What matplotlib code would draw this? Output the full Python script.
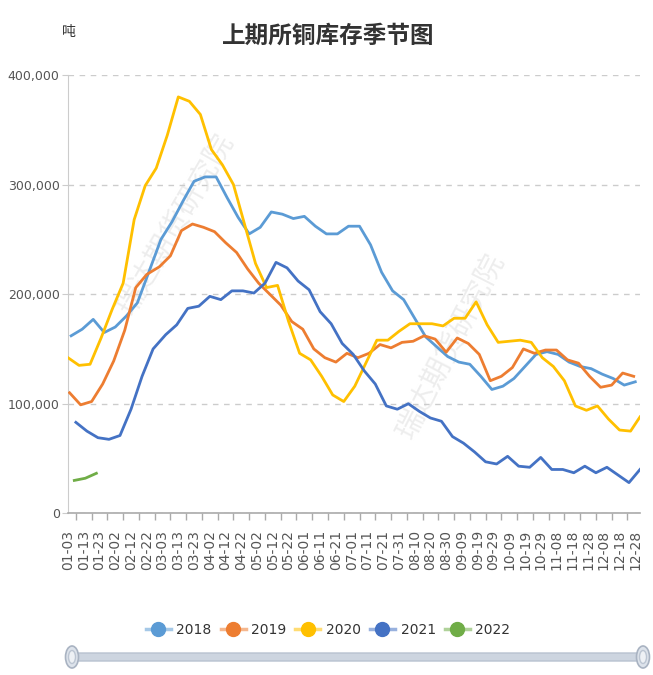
import matplotlib
matplotlib.use("Agg")
import matplotlib.pyplot as plt
from matplotlib.lines import Line2D
from matplotlib.patches import FancyBboxPatch, Ellipse
import numpy as np
import pandas as pd

plt.rcParams['font.family'] = ['Noto Sans CJK SC', 'DejaVu Sans']

# weekly SHFE copper stocks (tonnes), first report date of each year
years = ['2018', '2019', '2020', '2021', '2022']
first_dates = ['2018-01-05', '2019-01-04', '2020-01-03', '2021-01-08', '2022-01-07']
colors = ['#5B9BD5', '#ED7D31', '#FFC000', '#4472C4', '#70AD47']

v2018 = [162000, 168000, 177000, 165000, 170000, 180000, 192000, 219000, 250000, 266000,
         285000, 303000, 307000, 307000, 288000, 270000, 255000, 261000, 275000, 273000,
         269000, 271000, 262000, 255000, 255000, 262000, 262000, 245000, 220000, 203000,
         195000, 178000, 161000, 152000, 143000, 138000, 136000, 125000, 113000, 116000,
         123000, 134000, 145000, 147500, 145000, 138000, 134000, 132000, 127000, 123000,
         117000, 120000]
v2019 = [110000, 99000, 102000, 118000, 139000, 167000, 206000, 218000, 225000, 235000,
         258000, 264000, 261000, 257000, 247000, 238000, 223000, 210000, 200000, 190000,
         175000, 168000, 150000, 142000, 138000, 146000, 142000, 146000, 154000, 151000,
         156000, 157000, 162000, 159000, 147000, 160000, 155000, 145000, 121000, 125000,
         133000, 150000, 146000, 149000, 149000, 140000, 137000, 125000, 115000, 117000,
         128000, 125000]
v2020 = [142000, 135000, 136000, 160000, 186000, 210000, 268000, 299000, 315000, 345000,
         380000, 376000, 364000, 332000, 318000, 300000, 264000, 228000, 206000, 208000,
         175000, 146000, 140000, 125000, 108000, 102000, 116000, 137000, 158000, 158000,
         166000, 173000, 173000, 173000, 171000, 178000, 178000, 193000, 172000, 156000,
         157000, 158000, 156000, 142000, 134000, 121000, 98000, 94000, 98000, 86000,
         76000, 75000, 88000]
v2021 = [83000, 75000, 69000, 67500, 71000, 95000, 125000, 150000, 163000, 172000,
         187000, 189000, 198000, 195000, 203000, 203000, 201000, 210000, 229000, 224000,
         212000, 204000, 184000, 173000, 155000, 145000, 130000, 118000, 98000, 95000,
         100000, 93000, 87000, 84000, 70000, 64000, 56000, 47000, 45000, 52000,
         43000, 42000, 51000, 40000, 40000, 37000, 43000, 37000, 42000, 35000,
         28000, 40000]
v2022 = [30000, 32000, 36500]
series = [v2018, v2019, v2020, v2021, v2022]

label_days = np.arange(3, 364, 10)   # day-of-year on a leap-year calendar
y_ticks = [0, 100000, 200000, 300000, 400000]


def to_doy(first, n, year):
    dates = pd.date_range(first, periods=n, freq='7D')
    return [pd.Timestamp(2020, d.month, d.day).dayofyear if d.year == int(year) else 366
            for d in dates]


fig = plt.figure(figsize=(6.53, 6.75), dpi=100)
ax = fig.add_axes([68 / 653, 1 - 513.3 / 675, 572 / 653, 438.3 / 675])

# watermarks
for cx, cy, rot in [(0.19, 0.66, 60), (0.67, 0.38, 63)]:
    ax.text(cx, cy, '瑞达期货研究院', transform=ax.transAxes, rotation=rot,
            fontsize=21, color='#e2e2e2', alpha=0.6, ha='center', va='center', zorder=0)

for yr, first, vals, c in zip(years, first_dates, series, colors):
    ax.plot(to_doy(first, len(vals), yr), vals, color=c, lw=2.0, zorder=3,
            solid_joinstyle='round')

ax.set_xlim(3, 366)
ax.set_ylim(0, 400000)
ax.set_yticks(y_ticks)
ax.set_yticklabels([f'{v:,}' for v in y_ticks], fontsize=9, color='#555555',
                   family=['DejaVu Sans'])
ax.yaxis.grid(True, linestyle=(0, (4, 4)), color='#cccccc', lw=1)
ax.set_axisbelow(True)

ax.set_xticks(label_days)
ax.set_xticklabels([(pd.Timestamp('2020-01-01') + pd.Timedelta(days=int(d) - 1)).strftime('%m-%d')
                    for d in label_days], rotation=90, fontsize=10, color='#555555',
                   family=['DejaVu Sans'])
ax.set_xticks(label_days[:-1] + 5, minor=True)
ax.tick_params(axis='x', which='major', length=0, pad=12)
ax.tick_params(axis='x', which='minor', length=5, color='#aaaaaa', width=1)
ax.tick_params(axis='y', length=4, color='#cccccc', pad=2)

for s in ['top', 'right']:
    ax.spines[s].set_visible(False)
ax.spines['left'].set_color('#cccccc')
ax.spines['bottom'].set_color('#aaaaaa')
ax.spines['bottom'].set_linewidth(1.2)

fig.text(328 / 653, 1 - 36 / 675, '上期所铜库存季节图', fontsize=17, fontweight='bold',
         color='#333333', ha='center', va='center')
fig.text(69 / 653, 1 - 32 / 675, '吨', fontsize=10, color='#333333', ha='center', va='center')

handles = [(Line2D([], [], color=c, lw=2.5, alpha=0.55),
            Line2D([], [], color=c, lw=0, marker='o', markersize=10))
           for c in colors]
fig.legend(handles, years, loc='center', bbox_to_anchor=(328 / 653, 1 - 630 / 675),
           ncol=5, frameon=False, handlelength=1.8, handletextpad=0.4,
           columnspacing=0.65, labelcolor='#333333',
           prop={'family': ['DejaVu Sans'], 'size': 10})

# data-zoom slider
ov = fig.add_axes([0, 0, 1, 1], zorder=-1)
ov.set_xlim(0, 653)
ov.set_ylim(675, 0)
ov.axis('off')
ov.add_patch(FancyBboxPatch((72, 653), 570, 8, boxstyle='round,pad=0,rounding_size=4',
                            fc='#cdd5e0', ec='#b8c2d0', lw=1))
for hx in [72, 643]:
    ov.add_patch(Ellipse((hx, 657), 13, 22, fc='#dde3eb', ec='#a9b3c2', lw=1.2))
    ov.add_patch(Ellipse((hx, 657), 7, 13, fc='#eef1f5', ec='#bcc5d2', lw=1))

fig.savefig('out.png', dpi=100)
